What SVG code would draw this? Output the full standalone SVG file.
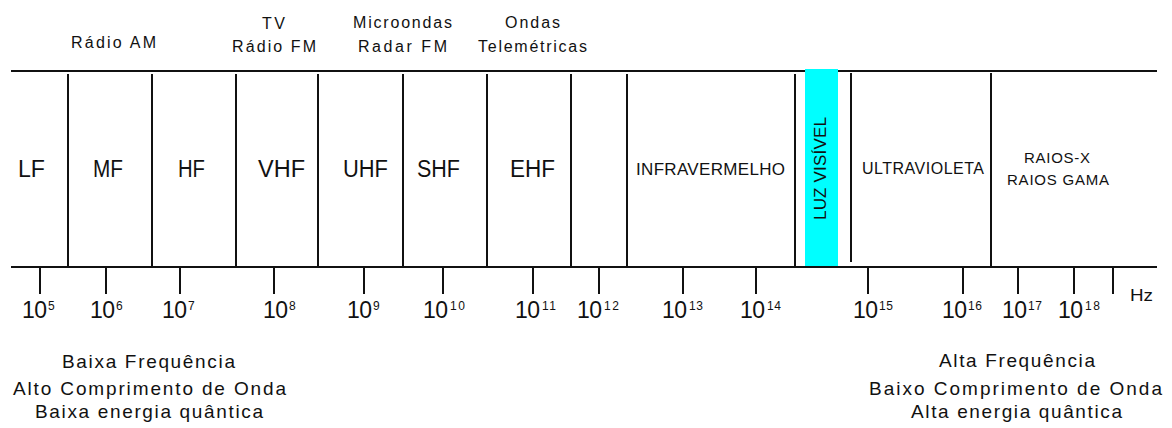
<svg xmlns="http://www.w3.org/2000/svg" width="1172" height="428" viewBox="0 0 1172 428">
<style>
text{font-family:"Liberation Sans",Arial,sans-serif;fill:#111}
.top{font-size:16px}
.band{font-size:23px}
.bs{font-size:16px}
.num{font-size:23px}
.sup{font-size:12px}
.foot{font-size:19px}
.ln{stroke:#111;stroke-width:2;fill:none}
</style>
<rect width="1172" height="428" fill="#fff"/>
<g id="top-labels">
<text class="top" x="71" y="48" textLength="85" lengthAdjust="spacing">Rádio AM</text>
<text class="top" x="262" y="29" textLength="23" lengthAdjust="spacing">TV</text>
<text class="top" x="232" y="52" textLength="84" lengthAdjust="spacing">Rádio FM</text>
<text class="top" x="353" y="28" textLength="99" lengthAdjust="spacing">Microondas</text>
<text class="top" x="358" y="52" textLength="89" lengthAdjust="spacing">Radar FM</text>
<text class="top" x="505" y="28" textLength="55" lengthAdjust="spacing">Ondas</text>
<text class="top" x="478" y="52" textLength="109" lengthAdjust="spacing">Telemétricas</text>
</g>
<g id="visible-band">
<rect x="805" y="69" width="33" height="197" fill="#00FFFF"/>
<text x="826" y="220" font-size="17" textLength="103" lengthAdjust="spacing" transform="rotate(-90 826 220)">LUZ VISÍVEL</text>
</g>
<g id="connectors">
<line class="ln" x1="11" y1="71" x2="805" y2="71"/>
<line class="ln" x1="838" y1="71" x2="1157" y2="71"/>
<line class="ln" x1="11" y1="267" x2="1157" y2="267"/>
<g class="ln">
<line x1="68" y1="74" x2="68" y2="267"/>
<line x1="152" y1="74" x2="152" y2="267"/>
<line x1="236" y1="74" x2="236" y2="267"/>
<line x1="318" y1="74" x2="318" y2="267"/>
<line x1="403" y1="74" x2="403" y2="267"/>
<line x1="487" y1="74" x2="487" y2="267"/>
<line x1="571" y1="74" x2="571" y2="267"/>
<line x1="627" y1="74" x2="627" y2="267"/>
<line x1="795" y1="74" x2="795" y2="267"/>
<line x1="851" y1="73" x2="851" y2="262"/>
<line x1="991" y1="73" x2="991" y2="267"/>
</g>
<g class="ln">
<line x1="40" y1="267" x2="40" y2="294"/>
<line x1="106" y1="267" x2="106" y2="294"/>
<line x1="180" y1="267" x2="180" y2="294"/>
<line x1="274" y1="267" x2="274" y2="294"/>
<line x1="364" y1="267" x2="364" y2="294"/>
<line x1="443" y1="267" x2="443" y2="294"/>
<line x1="533" y1="267" x2="533" y2="294"/>
<line x1="599" y1="267" x2="599" y2="294"/>
<line x1="683" y1="267" x2="683" y2="294"/>
<line x1="756" y1="267" x2="756" y2="294"/>
<line x1="868" y1="267" x2="868" y2="294"/>
<line x1="963" y1="267" x2="963" y2="294"/>
<line x1="1018" y1="267" x2="1018" y2="294"/>
<line x1="1074" y1="267" x2="1074" y2="294"/>
<line x1="1113" y1="267" x2="1113" y2="294"/>
</g>
</g>
<g id="bands">
<text class="band" x="18" y="177" textLength="27" lengthAdjust="spacingAndGlyphs">LF</text>
<text class="band" x="93" y="177" textLength="30" lengthAdjust="spacingAndGlyphs">MF</text>
<text class="band" x="178" y="177" textLength="27" lengthAdjust="spacingAndGlyphs">HF</text>
<text class="band" x="258" y="177" textLength="47" lengthAdjust="spacingAndGlyphs">VHF</text>
<text class="band" x="343" y="177" textLength="45" lengthAdjust="spacingAndGlyphs">UHF</text>
<text class="band" x="417" y="177" textLength="43" lengthAdjust="spacingAndGlyphs">SHF</text>
<text class="band" x="510" y="177" textLength="45" lengthAdjust="spacingAndGlyphs">EHF</text>
<text x="636" y="175" font-size="17" textLength="149" lengthAdjust="spacing">INFRAVERMELHO</text>
<text class="bs" x="862" y="174" textLength="122" lengthAdjust="spacing">ULTRAVIOLETA</text>
<text x="1024" y="163" font-size="15" textLength="66" lengthAdjust="spacing">RAIOS-X</text>
<text x="1007" y="185" font-size="15" textLength="102" lengthAdjust="spacing">RAIOS GAMA</text>
</g>
<g id="ticks">
<text class="num" x="22" y="318" textLength="25">10</text><text class="sup" x="48" y="310">5</text>
<text class="num" x="90" y="318" textLength="25">10</text><text class="sup" x="116" y="310">6</text>
<text class="num" x="162" y="318" textLength="25">10</text><text class="sup" x="188" y="310">7</text>
<text class="num" x="263" y="318" textLength="25">10</text><text class="sup" x="289" y="310">8</text>
<text class="num" x="347" y="318" textLength="25">10</text><text class="sup" x="373" y="310">9</text>
<text class="num" x="423" y="318" textLength="25">10</text><text class="sup" x="450" y="310" textLength="15">10</text>
<text class="num" x="515" y="318" textLength="25">10</text><text class="sup" x="542" y="310" textLength="14">11</text>
<text class="num" x="577" y="318" textLength="25">10</text><text class="sup" x="604" y="310" textLength="15">12</text>
<text class="num" x="662" y="318" textLength="25">10</text><text class="sup" x="689" y="310" textLength="14">13</text>
<text class="num" x="740" y="318" textLength="25">10</text><text class="sup" x="767" y="310" textLength="14">14</text>
<text class="num" x="853" y="318" textLength="25">10</text><text class="sup" x="879" y="310" textLength="14">15</text>
<text class="num" x="942" y="318" textLength="25">10</text><text class="sup" x="968" y="310" textLength="14">16</text>
<text class="num" x="1002" y="318" textLength="25">10</text><text class="sup" x="1028" y="310" textLength="14">17</text>
<text class="num" x="1058" y="318" textLength="25">10</text><text class="sup" x="1085" y="310" textLength="15">18</text>
<text x="1130" y="301" font-size="17" textLength="23" lengthAdjust="spacingAndGlyphs">Hz</text>
</g>
<g id="low-end">
<text class="foot" x="62" y="368" textLength="173" lengthAdjust="spacing">Baixa Frequência</text>
<text class="foot" x="13" y="395" textLength="273" lengthAdjust="spacing">Alto Comprimento de Onda</text>
<text class="foot" x="35" y="418" textLength="228" lengthAdjust="spacing">Baixa energia quântica</text>
</g>
<g id="high-end">
<text class="foot" x="939" y="367" textLength="156" lengthAdjust="spacing">Alta Frequência</text>
<text class="foot" x="869" y="395" textLength="293" lengthAdjust="spacing">Baixo Comprimento de Onda</text>
<text class="foot" x="911" y="418" textLength="211" lengthAdjust="spacing">Alta energia quântica</text>
</g>
</svg>
